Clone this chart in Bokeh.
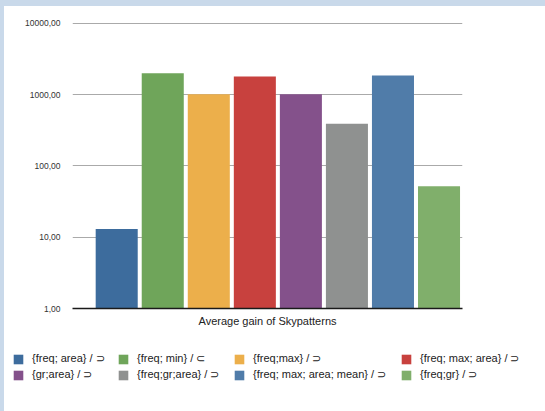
from bokeh.plotting import figure
from bokeh.models import (ColumnDataSource, Range1d, FixedTicker, CustomJSTickFormatter,
                          Legend, LegendItem)
from bokeh.embed import file_html
from bokeh.resources import INLINE

# ---- data ----
labels = ["{freq; area} / ⊃", "{freq; min} / ⊂", "{freq;max} / ⊃", "{freq; max; area} / ⊃",
          "{gr;area} / ⊃", "{freq;gr;area} / ⊃", "{freq; max; area; mean} / ⊃", "{freq;gr} / ⊃"]
values = [13, 2000, 1010, 1800, 1010, 390, 1850, 52]
colors = ["#3d6c9d", "#6fa55a", "#ecaf4b", "#c8413e", "#84518b", "#8f9190", "#507ca9", "#80af6b"]
y_ticks = [1, 10, 100, 1000, 10000]
x_label = "Average gain of Skypatterns"

FONT = "Liberation Sans"

src = ColumnDataSource(dict(x=list(range(len(values))), top=values,
                            bottom=[1] * len(values), color=colors, label=labels))

# ---- main chart ----
p1 = figure(width=537, height=332, y_axis_type="log",
            x_range=Range1d(-0.96, 7.51), y_range=Range1d(1, 10260),
            output_backend="svg", toolbar_location=None,
            min_border_left=64, min_border_right=83, min_border_top=14, min_border_bottom=32)
p1.outline_line_color = None
p1.background_fill_color = "white"
p1.border_fill_color = "white"

r = p1.vbar(x="x", top="top", bottom="bottom", width=0.913, fill_color="color",
            line_color=None, source=src)

p1.yaxis.ticker = FixedTicker(ticks=y_ticks)
p1.yaxis.formatter = CustomJSTickFormatter(code="return tick.toFixed(2).replace('.', ',');")
p1.yaxis.axis_line_color = None
p1.yaxis.major_tick_line_color = None
p1.yaxis.minor_tick_line_color = None
p1.yaxis.major_label_standoff = 6
p1.yaxis.major_label_text_font = FONT
p1.yaxis.major_label_text_font_size = "8.5px"
p1.yaxis.major_label_text_color = "#333333"

p1.xaxis.ticker = FixedTicker(ticks=[])
p1.xaxis.axis_line_color = "#1a1a1a"
p1.xaxis.axis_line_width = 1.5
p1.xaxis.major_tick_line_color = None
p1.xaxis.minor_tick_line_color = None
p1.xaxis.axis_label = x_label
p1.xaxis.axis_label_text_font = FONT
p1.xaxis.axis_label_text_font_size = "11px"
p1.xaxis.axis_label_text_font_style = "normal"
p1.xaxis.axis_label_text_color = "#222222"
p1.xaxis.axis_label_standoff = 6

p1.xgrid.grid_line_color = None
p1.ygrid.ticker = FixedTicker(ticks=y_ticks)
p1.ygrid.grid_line_color = "#aaaaaa"
p1.ygrid.grid_line_width = 1

# ---- legend strip (separate root; swatches drawn from the same data source) ----
p2 = figure(width=537, height=71, x_range=Range1d(100, 101), y_range=Range1d(0, 1),
            output_backend="svg", toolbar_location=None,
            x_axis_location=None, y_axis_location=None,
            min_border_left=0, min_border_right=0, min_border_top=0, min_border_bottom=0)
p2.outline_line_color = None
p2.xgrid.grid_line_color = None
p2.ygrid.grid_line_color = None
p2.background_fill_color = "white"
p2.border_fill_color = "white"
r2 = p2.vbar(x="x", top="top", bottom="bottom", width=0.913, fill_color="color",
             line_color=None, source=src)

col_x = [4, 109, 225, 392]
ncol = 4
for c in range(ncol):
    items = [LegendItem(label=labels[i], renderers=[r2], index=i)
             for i in range(c, len(labels), ncol)]
    leg = Legend(items=items, location=(col_x[c], 30), orientation="vertical",
                 glyph_width=12, glyph_height=12, label_height=12, label_standoff=8,
                 spacing=3, padding=0, margin=0, border_line_color=None,
                 background_fill_alpha=0, label_text_font=FONT,
                 label_text_font_size="11px", label_text_color="#222222")
    p2.add_layout(leg)

p = [p1, p2]

TEMPLATE = """
{% block postamble %}
<style>
html { background: #c9d9ea; }
body { background: #ffffff; margin: 6px 0 0 4px !important; padding: 2px 0 0 4px !important; }
</style>
{% endblock %}
"""

open("out.html", "w").write(file_html(p, INLINE, template=TEMPLATE))
